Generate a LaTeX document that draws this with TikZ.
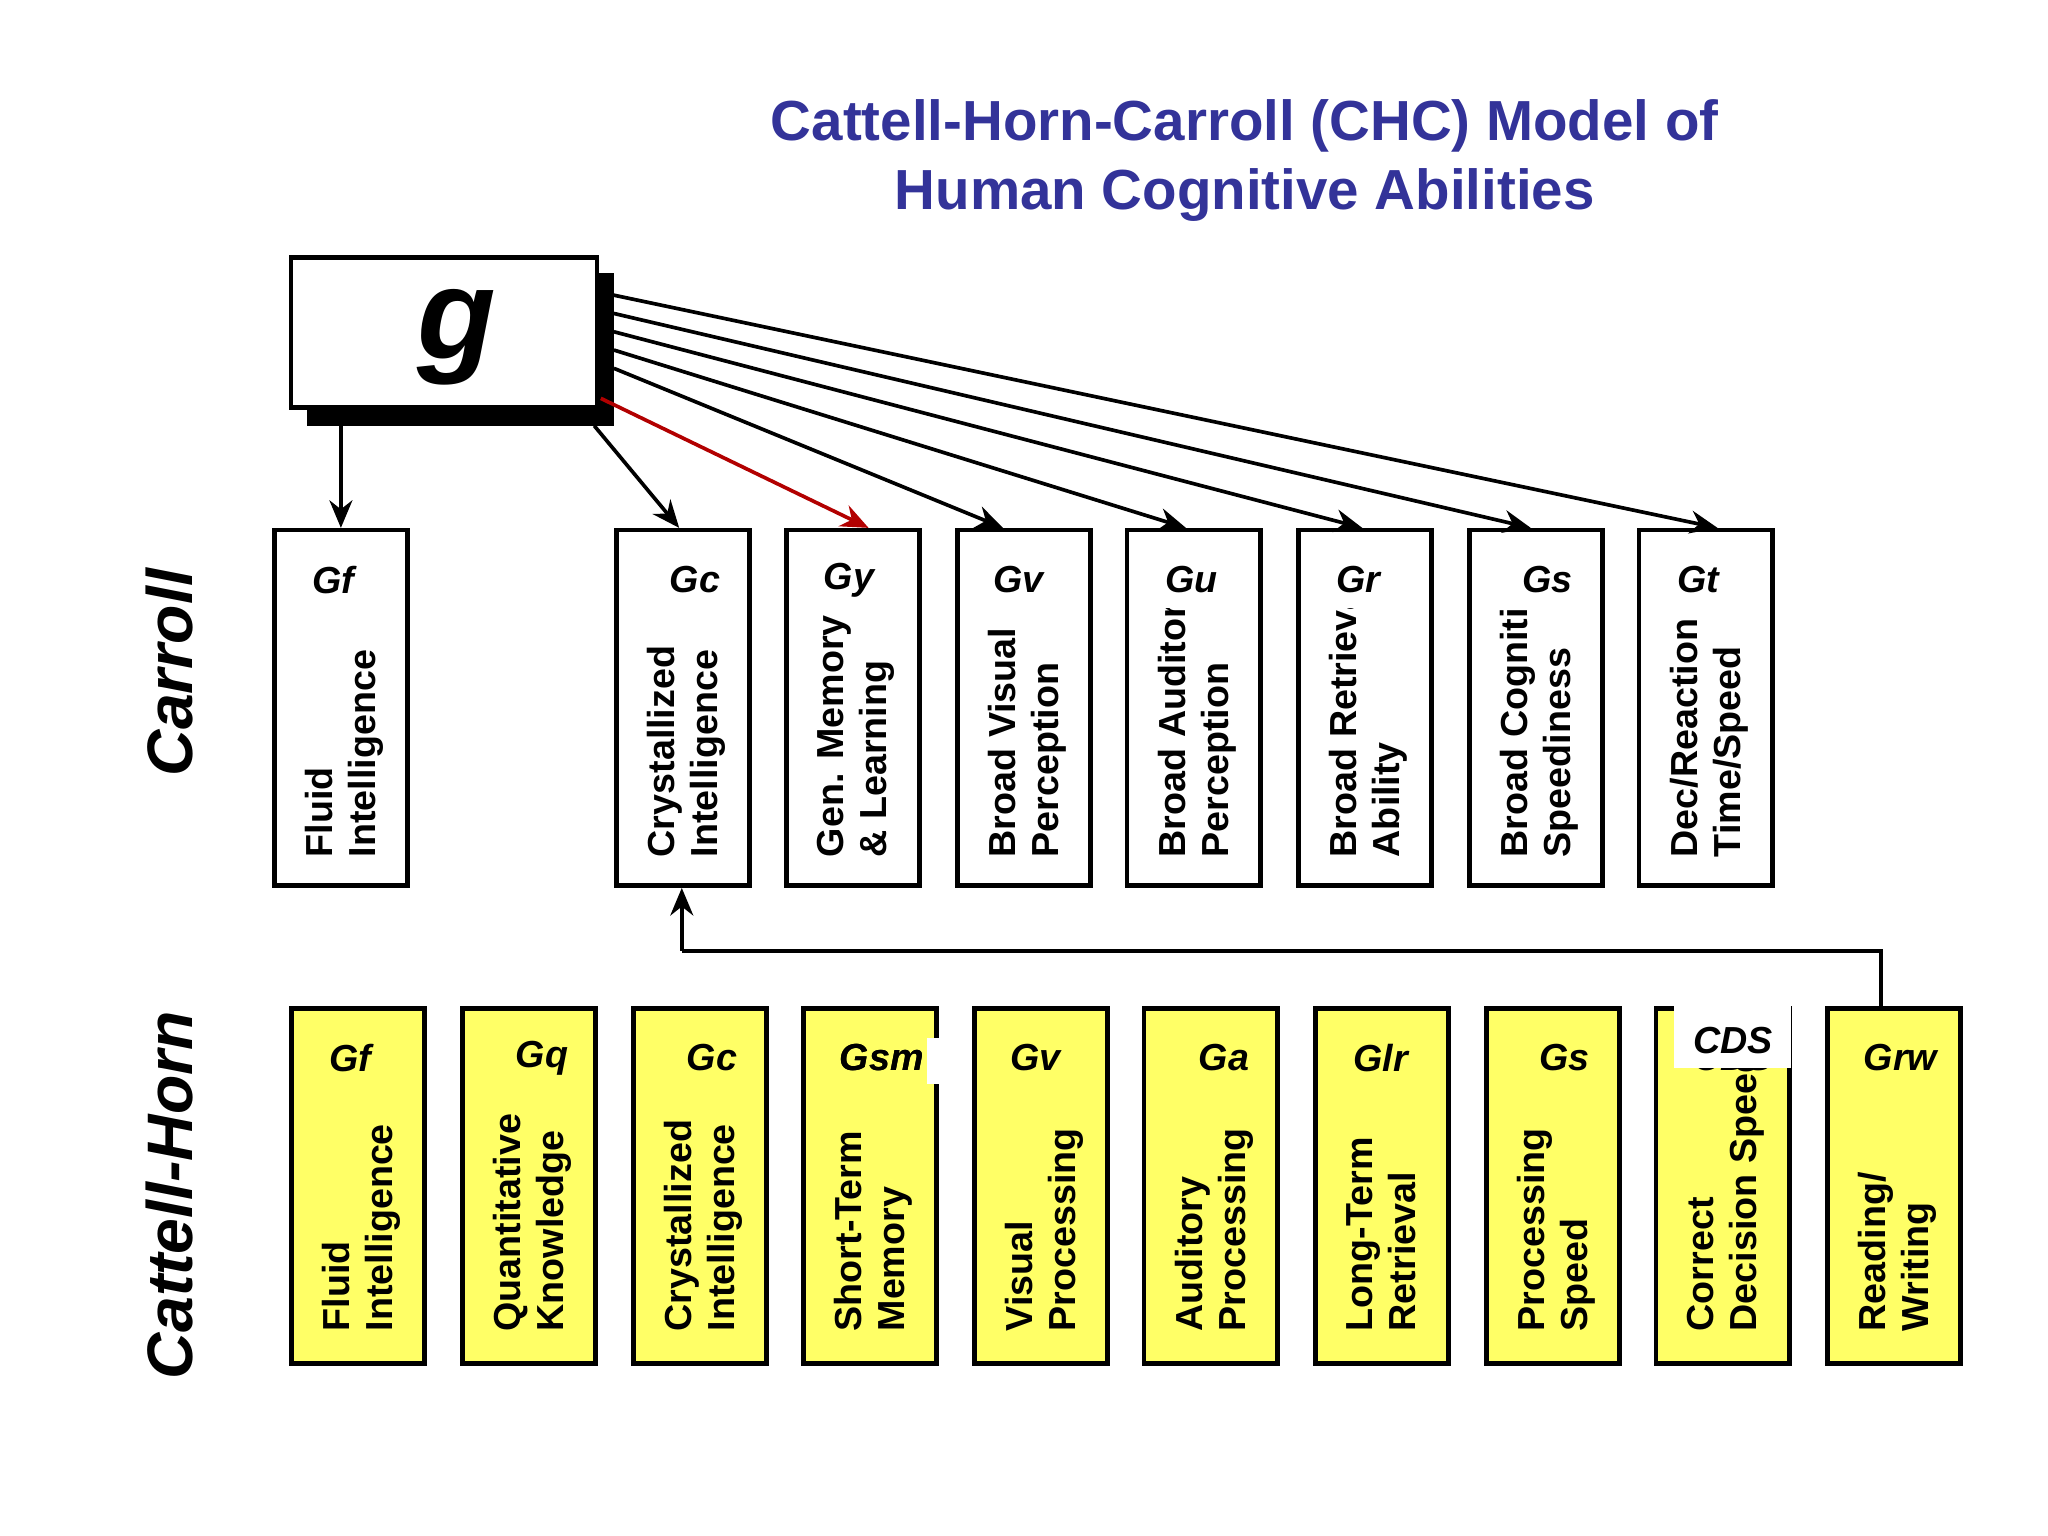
\documentclass[tikz,border=0pt]{standalone}
\usepackage{fontspec}
\setmainfont{Liberation Sans}
\usetikzlibrary{calc,arrows.meta}
\definecolor{ttl}{RGB}{51,51,153}
\definecolor{yel}{RGB}{255,255,102}
\begin{document}
\begin{tikzpicture}[x=0.01cm,y=-0.01cm,
  box/.style={draw,line width=1pt,minimum width=1.02cm,minimum height=2.72cm,inner sep=0},
  cbox/.style={box,fill=white},
  hbox/.style={box,fill=yel},
  lab/.style={rotate=90,anchor=north west,align=left,inner sep=0,font=\bfseries\fontsize{8.2}{9.4}\selectfont},
  code/.style={font=\bfseries\itshape\fontsize{8.2}{9.4}\selectfont,inner sep=1pt},
  arr/.style={-{Stealth[length=6pt,width=5pt]},line width=0.8pt}]
\useasboundingbox (0,0) rectangle (1568,1176);
\node[ttl,align=center,font=\bfseries\fontsize{12.3}{15}\selectfont] (title) at (953,123) {Cattell-Horn-Carroll (CHC) Model of\\Human Cognitive Abilities};
% g box
\fill (235,209) rectangle (470,326);
\node[draw,fill=white,line width=1pt,minimum width=2.34cm,minimum height=1.15cm,inner sep=0] (g) at (340,254.5) {};
\node[font=\bfseries\itshape\fontsize{28}{28}\selectfont] (gt) at (350,258) {g};
\node[rotate=90,font=\bfseries\itshape\fontsize{14}{14}\selectfont] (carroll) at (130,515) {Carroll};
\node[rotate=90,font=\bfseries\itshape\fontsize{14}{14}\selectfont] (ch) at (130,915) {Cattell-Horn};
% Carroll boxes
\foreach \n/\x/\cx/\c/\t in {cgf/210/255/Gf/{Fluid\\Intelligence},cgc/472/532/Gc/{Crystallized\\Intelligence},cgy/602/650/Gy/{Gen. Memory\\\& Learning},cgv/733/780/Gv/{Broad Visual\\Perception},cgt/1255/1300/Gt/{Dec/Reaction\\Time/Speed}}{
  \node[cbox] (\n) at (\x+51,542) {};
  \node[code] (\n c) at (\cx,444) {\c};
  \node[lab] (\n t) at (\x+23,657) {\t};
}
\foreach \n/\x/\cx/\c/\t in {cgu/863/912/Gu/{Broad Auditory\\Perception},cgr/994/1040/Gr/{Broad Retrieval\\Ability},cgs/1125/1185/Gs/{Broad Cognitive\\Speediness}}{
  \node[cbox] (\n) at (\x+51,542) {};
  \node[code] (\n c) at (\cx,444) {\c};
  \begin{scope}
  \clip (\x,466) rectangle (\x+102,678);
  \node[lab] (\n t) at (\x+23,657) {\t};
  \end{scope}
}
% CH boxes
\foreach \n/\x/\cx/\c/\t in {hgf/223/268/Gf/{Fluid\\Intelligence},hgq/354/415/Gq/{Quantitative\\Knowledge},hgc/485/545/Gc/{Crystallized\\Intelligence},hgsm/615/675/Gsm/{Short-Term\\Memory},hgv/746/793/Gv/{Visual\\Processing},hga/876/937/Ga/{Auditory\\Processing},hglr/1007/1057/Glr/{Long-Term\\Retrieval},hgs/1138/1198/Gs/{Processing\\Speed},hcds/1268/1327/CDS/{Correct\\Decision Speed},hgrw/1399/1455/Grw/{Reading/\\Writing}}{
  \node[hbox] (\n) at (\x+51,908) {};
  \node[code] (\n c) at (\cx,810) {\c};
  \node[lab] (\n t) at (\x+23,1020) {\t};
}
\fill[white] (1282,770) rectangle (1371,818);
\node[code] (cdsfix) at (1327,797) {CDS};
\fill[white] (710,795) rectangle (721,830);
\node[code] (gsmfix) at (675,810) {Gsm};
% arrows from g
\draw[arr] (g.south -| 261,0) -- (cgf.north -| 261,0);
\coordinate (s2) at (455,326);
\draw[arr] (s2) -- (cgc.north -| 520,0);
\coordinate (s3) at (460,305);
\draw[arr,red!70!black] (s3) -- (cgy.north -| 665,0);
\coordinate (s4) at (470,282);
\draw[arr] (s4) -- (cgv.north -| 768,0);
\coordinate (s5) at (470,268);
\draw[arr] (s5) -- (cgu.north -| 908,0);
\coordinate (s6) at (470,254);
\draw[arr] (s6) -- (cgr.north -| 1043,0);
\coordinate (s7) at (470,240);
\draw[arr] (s7) -- (cgs.north -| 1172,0);
\coordinate (s8) at (470,226);
\draw[arr] (s8) -- (cgt.north -| 1315,0);
% feedback
\coordinate (fb) at (522,728);
\draw[line width=0.8pt] (hgrw.north -| 1440,0) |- (fb);
\draw[arr] (fb) -- (cgc.south -| 522,0);
\end{tikzpicture}
\end{document}
